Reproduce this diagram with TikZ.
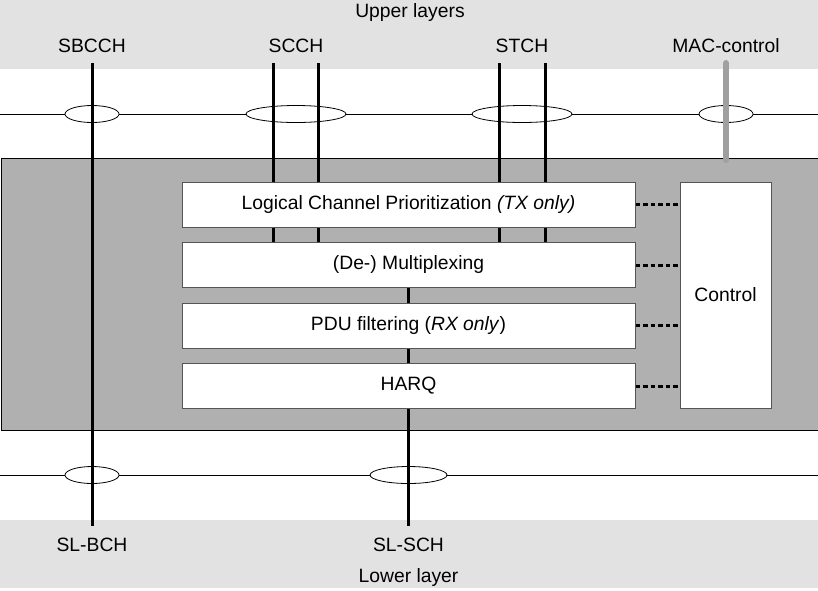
\documentclass[tikz,border=0pt]{standalone}
\usepackage{fontspec}
\setmainfont{Liberation Sans}
\usepackage{xcolor}
\definecolor{band-gray}{RGB}{226,226,226}
\definecolor{mac-gray}{RGB}{176,176,176}
\definecolor{edge-gray}{RGB}{85,85,85}
\definecolor{ctrl-gray}{RGB}{160,160,160}
\usetikzlibrary{positioning,shapes.geometric}
\pgfdeclarelayer{back}
\pgfdeclarelayer{lines}
\pgfsetlayers{back,lines,main}

\begin{document}
\begin{tikzpicture}[x=1pt, y=-1pt,
    layer band/.style={fill=band-gray, draw=none, minimum width=818pt, inner sep=0pt, anchor=north west},
    label text/.style={font=\fontsize{19.3}{23}\selectfont, inner sep=0pt},
    sub box/.style={draw=edge-gray, fill=white, line width=1pt, minimum width=453pt, minimum height=45pt, inner sep=0pt, font=\fontsize{19.3}{23}\selectfont},
    bundle/.style={ellipse, draw, fill=white, line width=0.8pt, minimum height=17pt, minimum width=#1, inner sep=0pt},
    chan line/.style={line width=3pt},
    ctrl line/.style={line width=6pt, ctrl-gray, line cap=round},
    dot link/.style={line width=3pt, dash pattern=on 4.5pt off 3pt},
    sap line/.style={line width=0.8pt}
]
\useasboundingbox (0,0) rectangle (818,590);

\begin{pgfonlayer}{back}
% Upper and lower layer bands
\node[layer band, minimum height=69pt] (upper) at (0,0) {};
\node[layer band, minimum height=68pt] (lower) at (0,520) {};

% MAC entity
\node[draw, fill=mac-gray, line width=1pt, minimum width=817pt, minimum height=272pt, inner sep=0pt, anchor=north west] (mac) at (0.5,158) {};

% Service access points (upper)
\coordinate (sap up w) at (0,114);
\coordinate (sap up e) at (818,114);
\draw[sap line] (sap up w) -- (sap up e);
\node[bundle=54pt] (e1) at (92,114) {};
\node[bundle=100pt] (e2) at (296,114) {};
\node[bundle=100pt] (e3) at (522,114) {};
\node[bundle=54pt] (e4) at (726,114) {};

% Service access points (lower)
\coordinate (sap lo w) at (0,475);
\coordinate (sap lo e) at (818,475);
\draw[sap line] (sap lo w) -- (sap lo e);
\node[bundle=54pt] (e5) at (92,475) {};
\node[bundle=77pt] (e6) at (408.5,475) {};
\end{pgfonlayer}

% Channel end points
\coordinate (sbcch) at (92,63);
\coordinate (scch a) at (273,63);
\coordinate (scch b) at (318,63);
\coordinate (stch a) at (499,63);
\coordinate (stch b) at (545,63);
\coordinate (macc) at (726,63);
\coordinate (slbch) at (92,526);
\coordinate (slsch) at (408.5,526);

% Sub-entities
\node[sub box] (lcp) at (408.5,204.5) {Logical Channel Prioritization \textit{(TX only)}};
\node[sub box, below=14.5pt of lcp] (mux) {(De-) Multiplexing};
\node[sub box, below=14.5pt of mux] (pdu) {PDU filtering (\textit{RX only})};
\node[sub box, below=14.5pt of pdu] (harq) {HARQ};
\node[sub box, minimum width=91pt, minimum height=226pt] (ctrl) at (725.5,295) {Control};

% Logical and transport channels
\begin{pgfonlayer}{lines}
\draw[chan line] (sbcch) -- (slbch);
\foreach \c in {scch a, scch b, stch a, stch b}
  \draw[chan line] (\c) -- (\c |- mux.north);
\draw[chan line] (mux.south) -- (pdu.north);
\draw[chan line] (pdu.south) -- (harq.north);
\draw[chan line] (harq.south) -- (slsch);
\draw[ctrl line] (macc) -- ([yshift=-2pt]macc |- mac.north);
\end{pgfonlayer}

% Control links
\foreach \b in {lcp, mux, pdu, harq}
  \draw[dot link] (\b.east) -- (\b.east -| ctrl.west);

% Labels
\node[label text] (upper label) at (410,13) {Upper layers};
\node[label text] (sbcch label) at (92,46) {SBCCH};
\node[label text] (scch label) at (296,46) {SCCH};
\node[label text] (stch label) at (522,46) {STCH};
\node[label text] (macc label) at (726,46) {MAC-control};
\node[label text] (slbch label) at (92,545) {SL-BCH};
\node[label text] (slsch label) at (408.5,545) {SL-SCH};
\node[label text] (lower label) at (408.5,577) {Lower layer};

\end{tikzpicture}
\end{document}
